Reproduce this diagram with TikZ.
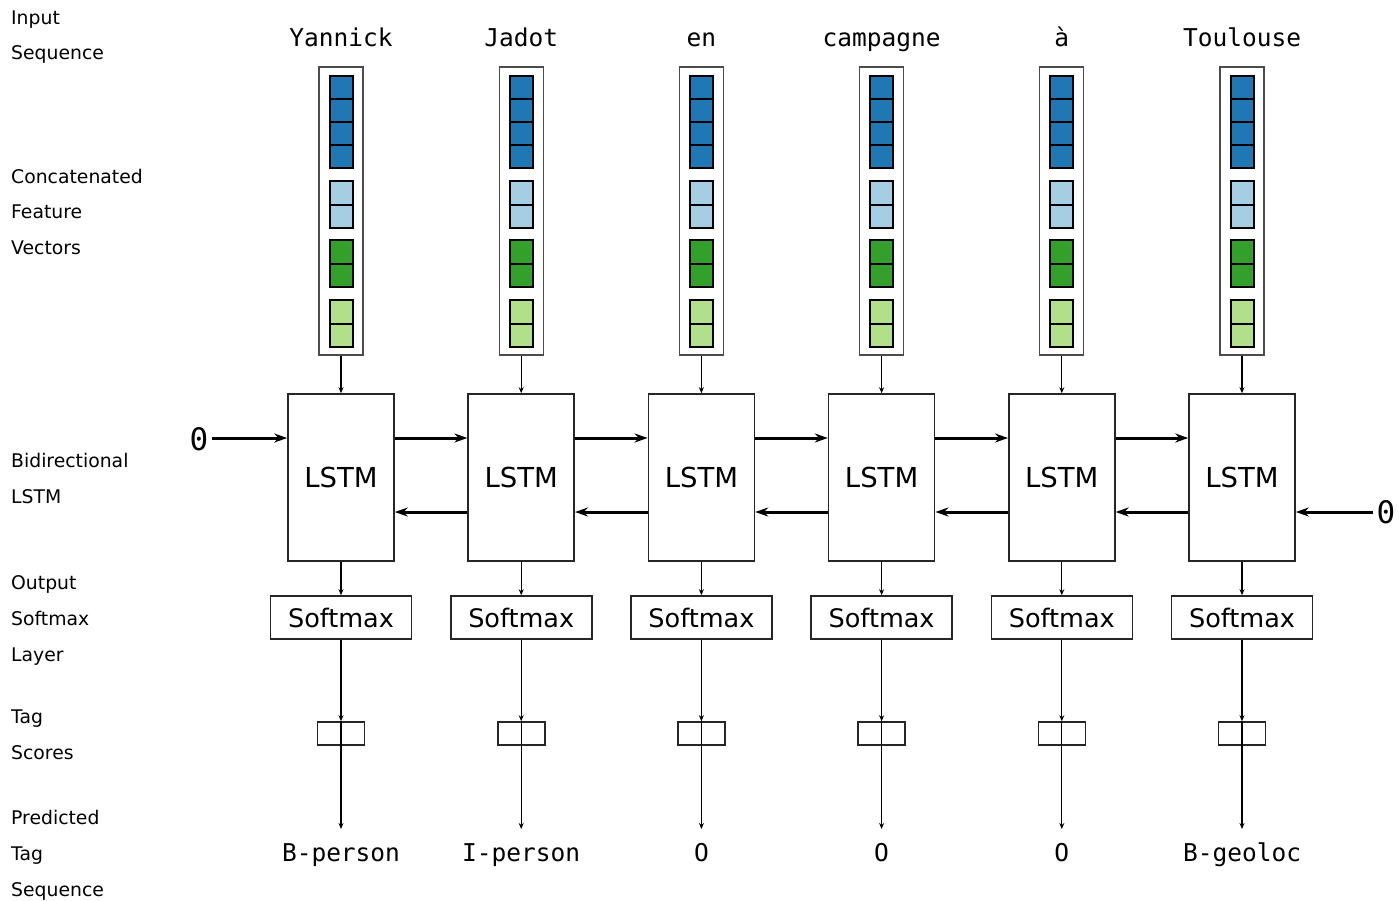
\documentclass[tikz,border=0pt]{standalone}
\usepackage{fontspec}
\setmainfont{DejaVu Sans}
\setmonofont{DejaVu Sans Mono}
\usetikzlibrary{arrows.meta}

% ColorBrewer "Paired" tones for the feature blocks
\definecolor{wordemb}{HTML}{1F78B4}
\definecolor{charemb}{HTML}{A6CEE3}
\definecolor{casefeat}{HTML}{33A02C}
\definecolor{gazfeat}{HTML}{B2DF8A}

\tikzset{
  rowlabel/.style={anchor=base west, inner sep=0pt, font=\fontsize{18.8}{20}\selectfont},
  wordtxt/.style={font=\ttfamily\fontsize{24.5}{26}\selectfont},
  featbox/.style={draw=black!70, line width=1.2pt, minimum width=44pt, minimum height=288pt, inner sep=0pt},
  cell/.style={draw=black, line width=2pt},
  lstmbox/.style={draw=black!85, line width=1.6pt, minimum width=106pt, minimum height=167pt,
    inner sep=0pt, font=\fontsize{27.5}{29}\selectfont},
  smbox/.style={draw=black!85, line width=1.6pt, minimum width=141pt, minimum height=43pt,
    inner sep=0pt, font=\fontsize{25.5}{27}\selectfont},
  scorebox/.style={draw=black!85, line width=1.6pt, minimum width=47pt, minimum height=23pt, inner sep=0pt},
  thin/.style={-{Stealth[length=6pt,width=5pt]}, line width=1.3pt},
  thick/.style={-{Stealth[length=13pt,width=9pt]}, line width=3pt},
}

\begin{document}
\begin{tikzpicture}[x=1pt, y=-1pt]
\useasboundingbox (0,0) rectangle (1399,900);

% layer names on the left
\foreach \txt/\yy in {Input/24, Sequence/59, Concatenated/183, Feature/218, Vectors/254,
  Bidirectional/467, LSTM/503, Output/589, Softmax/625, Layer/661, Tag/723, Scores/759,
  Predicted/824, Tag/860, Sequence/896}
  \node[rowlabel] at (11,\yy) {\txt};

% one column per token
\foreach \w/\t [count=\i] in {Yannick/B-person, Jadot/I-person, en/O, campagne/O, à/O, Toulouse/B-geoloc} {
  \pgfmathsetmacro{\cx}{341+180.2*(\i-1)}
  \node[wordtxt, anchor=base] (word\i) at (\cx,46) {\w};
  \node[featbox] (feat\i) at (\cx,211) {};
  % word embedding
  \foreach \k in {0,...,3}
    \draw[cell, fill=wordemb] (\cx-11.5,76+23*\k) rectangle (\cx+11.5,99+23*\k);
  % character features
  \foreach \k in {0,1}
    \draw[cell, fill=charemb] (\cx-11.5,181+23.5*\k) rectangle (\cx+11.5,204.5+23.5*\k);
  \foreach \k in {0,1}
    \draw[cell, fill=casefeat] (\cx-11.5,240+23.5*\k) rectangle (\cx+11.5,263.5+23.5*\k);
  \foreach \k in {0,1}
    \draw[cell, fill=gazfeat] (\cx-11.5,300+23.5*\k) rectangle (\cx+11.5,323.5+23.5*\k);
  \node[lstmbox] (lstm\i) at (\cx,477.5) {LSTM};
  \node[smbox] (sm\i) at (\cx,617.5) {Softmax};
  \node[scorebox] (score\i) at (\cx,733.5) {};
  \node[wordtxt, anchor=base] (tag\i) at (\cx,861) {\t};
  \coordinate (tagin\i) at (\cx,829);
  \draw[thin] (feat\i) -- (lstm\i);
  \draw[thin] (lstm\i) -- (sm\i);
  \draw[thin] (sm\i) -- (score\i.north);
  \draw[thin] (score\i.north) -- (tagin\i);
}

% recurrent links in both directions
\foreach \i [evaluate=\i as \j using int(\i+1)] in {1,...,5} {
  \draw[thick] ([yshift=39.5pt]lstm\i.east) -- ([yshift=39.5pt]lstm\j.west);
  \draw[thick] ([yshift=-34.5pt]lstm\j.west) -- ([yshift=-34.5pt]lstm\i.east);
}

% initial states
\node[font=\ttfamily\fontsize{31}{32}\selectfont] (zleft) at (199,439) {0};
\node[font=\ttfamily\fontsize{31}{32}\selectfont] (zright) at (1386,512) {0};
\draw[thick] (zleft.east |- 0,438) -- ([yshift=39.5pt]lstm1.west);
\draw[thick] (zright.west |- 0,512) -- ([yshift=-34.5pt]lstm6.east);
\end{tikzpicture}
\end{document}
